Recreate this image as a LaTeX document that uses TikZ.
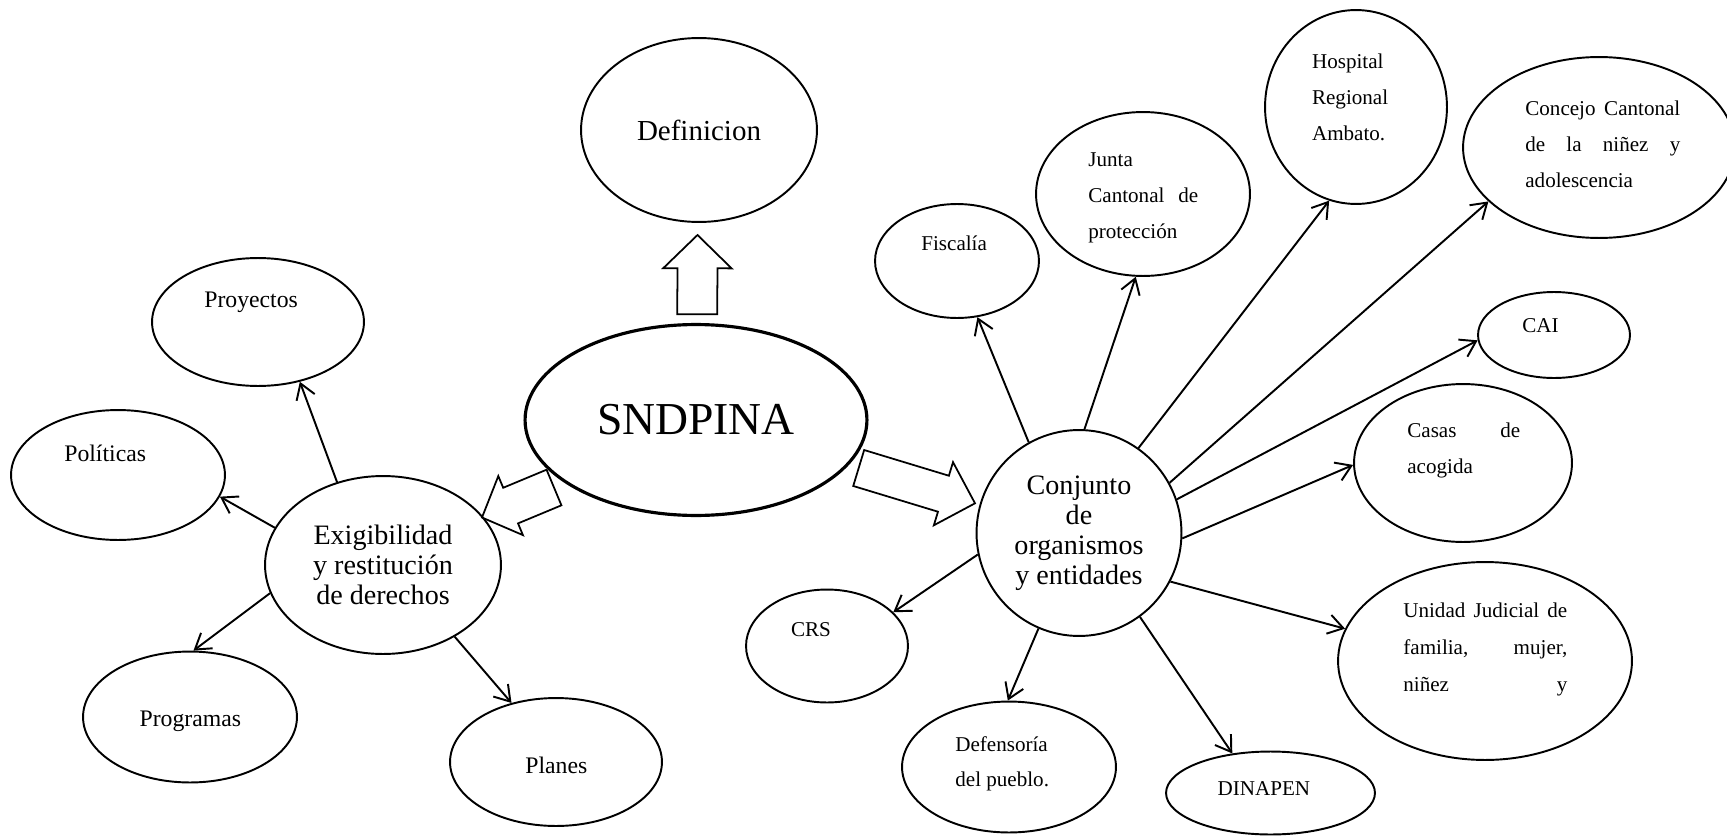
\documentclass[tikz,border=0pt]{standalone}
\usepackage{fontspec}
\setmainfont{Liberation Serif}
\usetikzlibrary{shapes.geometric,arrows.meta,calc}
% block arrow: #1 tail, #2 tip, #3 half shaft width, #4 half head width, #5 head length
\newcommand\blkarrow[5]{%
  \coordinate (hb) at ($(#2)!#5!(#1)$);
  \draw[blk] ($(#1)!#3!90:(#2)$) -- ($(hb)!#3!90:(#2)$) -- ($(hb)!#4!90:(#2)$) -- (#2)
    -- ($(hb)!#4!-90:(#2)$) -- ($(hb)!#3!-90:(#2)$) -- ($(#1)!#3!-90:(#2)$) -- cycle;
}
\begin{document}
\begin{tikzpicture}[x=0.02cm,y=-0.02cm,
  ell/.style 2 args={draw, ellipse, line width=1.1pt, inner sep=0pt,
    minimum width={#1*0.04cm}, minimum height={#2*0.04cm}},
  conn/.style={line width=1.1pt, -{Straight Barb[length=8.5pt,width=11pt]}},
  blk/.style={draw, line width=1pt, line join=miter},
  sm/.style={anchor=base west, inner sep=0pt, font=\fontsize{12}{20.5}\selectfont},
  md/.style={anchor=base west, inner sep=0pt, font=\fontsize{13.5}{16}\selectfont}]
\fill[white] (0,0) rectangle (1727,835);
\useasboundingbox (0,0) rectangle (1727,835);

% main nodes
\node[ell={118}{92}, font=\fontsize{16.5}{19}\selectfont] (def) at (699,130) {Definicion};
\node[ell={171}{95.5}, line width=1.8pt, font=\fontsize{26}{30}\selectfont] (snd) at (696,420) {SNDPINA};
\node[ell={118}{89}, align=center, font=\fontsize{16}{17.1}\selectfont] (exig) at (383,565)
  {Exigibilidad\\y restitución\\de derechos};
\node[ell={102.5}{103}, align=center, font=\fontsize{16}{17.1}\selectfont] (conj) at (1079,533)
  {Conjunto\\de\\organismos\\y entidades};

% left satellites
\node[ell={106}{64}] (proy) at (258,322) {};
\node[ell={107}{65}] (poli) at (118,475) {};
\node[ell={107}{65.5}] (prog) at (190,717) {};
\node[ell={106}{64}] (plan) at (556,762) {};

% right satellites
\node[ell={81}{56.5}] (crs) at (827,646) {};
\node[ell={82}{57}] (fisc) at (957,261) {};
\node[ell={107}{82}] (junta) at (1143,194) {};
\node[ell={91}{97}] (hosp) at (1356,107) {};
\node[ell={136}{90.5}] (conc) at (1599,147.5) {};
\node[ell={76}{43}] (cai) at (1554,335) {};
\node[ell={109}{79}] (casas) at (1463,463) {};
\node[ell={147}{99}] (unid) at (1485,661) {};
\node[ell={107}{65.5}] (defe) at (1009,767) {};
\node[ell={104.5}{41.5}] (dina) at (1270.5,793) {};

% texts of satellites
\node[md] (tproy) at (204,307.7) {Proyectos};
\node[md] (tpoli) at (64,461.7) {Políticas};
\node[md] (tprog) at (139.3,726.7) {Programas};
\node[md] (tplan) at (525,773.3) {Planes};
\node[sm] (tcrs) at (790.7,636) {CRS};
\node[sm] (tfisc) at (921,250.7) {Fiscalía};
\node[sm] (tjunta) at (1088,166) {\vtop{\hbox{Junta}\hbox to 2.2cm{Cantonal\hfil de}\hbox{protección}}};
\node[sm, font=\fontsize{12}{20.5}\selectfont] (thosp) at (1311.7,68.5) {\vtop{\hbox{Hospital}\hbox{Regional}\hbox{Ambato.}}};
\node[sm] (tconc) at (1525,115) {\vtop{\hbox to 3.1cm{Concejo\hfil Cantonal}\hbox to 3.1cm{de\hfil la\hfil niñez\hfil y}\hbox{adolescencia}}};
\node[sm] (tcai) at (1522,332) {CAI};
\node[sm, font=\fontsize{12}{21}\selectfont] (tcasas) at (1407,437) {\vtop{\hbox to 2.26cm{Casas\hfil de}\hbox{acogida}}};
\node[sm, font=\fontsize{12}{21.3}\selectfont] (tunid) at (1403,617) {\vtop{\hbox to 3.28cm{Unidad\hfil Judicial\hfil de}\hbox to 3.28cm{familia,\hfil mujer,}\hbox to 3.28cm{niñez\hfil y}}};
\node[sm, font=\fontsize{12}{20.3}\selectfont] (tdefe) at (955,751) {\vtop{\hbox{Defensoría}\hbox{del pueblo.}}};
\node[sm] (tdina) at (1217.3,795) {DINAPEN};

% connectors from Exigibilidad
\draw[conn] (exig.119.8) -- (proy.-55.9);
\draw[conn] (exig.161) -- (poli.-12.5);
\draw[conn] (exig.194.9) -- (prog.87);
\draw[conn] (exig.-45.5) -- (plan.127.6);

% connectors from Conjunto
\draw[conn] (conj.119.3) -- (fisc.-70.2);
\draw[conn] (conj.87.4) -- (junta.-95.4);
\draw[conn] (conj.55.5) -- (hosp.-106.8);
\draw[conn] (conj.29.6) -- (conc.206.6);
\draw[conn] (conj.19.6) -- (cai.184.4);
\draw[conn] (conj.-3) -- (casas.181.6);
\draw[conn] (conj.-28.5) -- (unid.167);
\draw[conn] (conj.-54.7) -- (dina.134.4);
\draw[conn] (conj.-113.6) -- (defe.91.6);
\draw[conn] (conj.-168.4) -- (crs.27.9);

% block arrows
\coordinate (uT) at (697.3,314.3); \coordinate (uP) at (697.5,235);
\blkarrow{uT}{uP}{0.4cm}{0.684cm}{0.666cm}
\coordinate (lT) at (554,487.5); \coordinate (lP) at (482,517.5);
\blkarrow{lT}{lP}{0.386cm}{0.64cm}{0.62cm}
\coordinate (rT) at (858.7,468); \coordinate (rP) at (975,503.3);
\blkarrow{rT}{rP}{0.376cm}{0.66cm}{0.66cm}
\end{tikzpicture}
\end{document}
